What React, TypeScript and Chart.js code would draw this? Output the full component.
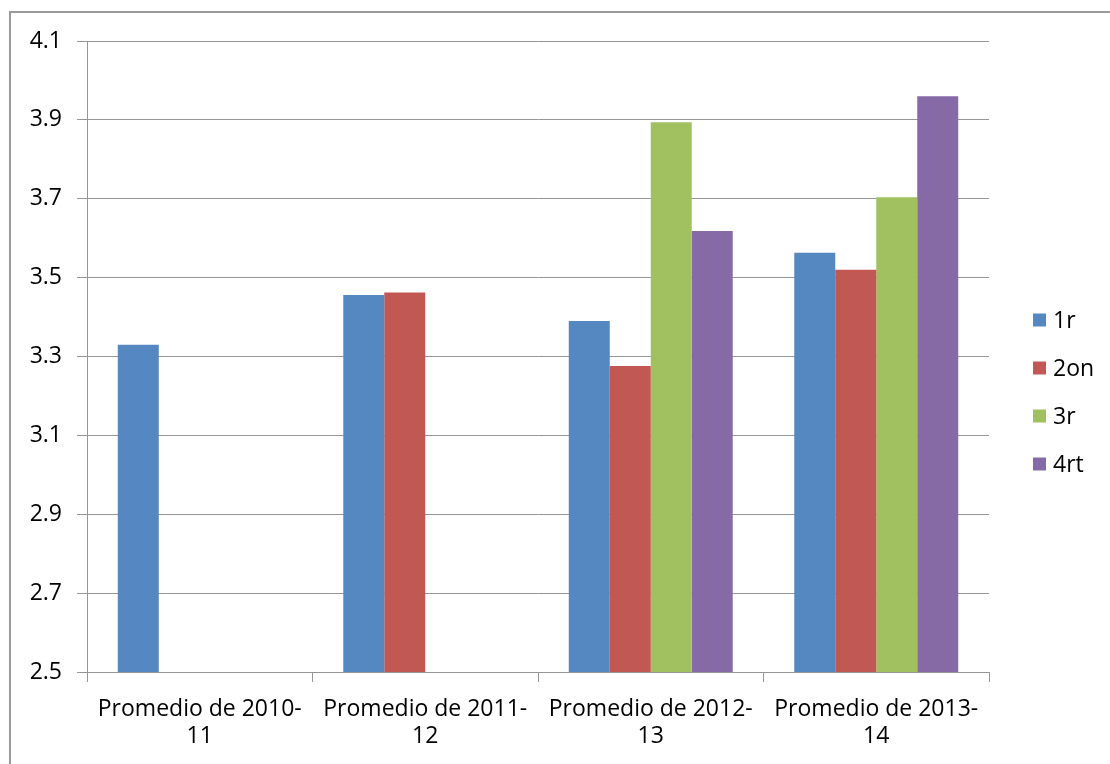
import React, { useEffect, useRef } from "react";
import { Chart, registerables } from "chart.js";

Chart.register(...registerables);

const categories: string[][] = [
  ["Promedio de 2010-", "11"],
  ["Promedio de 2011-", "12"],
  ["Promedio de 2012-", "13"],
  ["Promedio de 2013-", "14"],
];
const seriesNames = ["1r", "2on", "3r", "4rt"];
const s1r = [3.33, 3.456, 3.39, 3.563];
const s2on = [null, 3.462, 3.276, 3.52];
const s3r = [null, null, 3.894, 3.704];
const s4rt = [null, null, 3.618, 3.96];
const seriesColors = ["#5587C0", "#C25853", "#A1C060", "#866AA6"];
const yTicks = [2.5, 2.7, 2.9, 3.1, 3.3, 3.5, 3.7, 3.9, 4.1];

const FONT = "'Open Sans', sans-serif";
const GRID = "#969696";

const framePlugin = {
  id: "frame",
  beforeDraw(chart: any) {
    const ctx = chart.ctx;
    ctx.save();
    ctx.fillStyle = "#ffffff";
    ctx.fillRect(0, 0, chart.width, chart.height);
    ctx.strokeStyle = "#9a9a9a";
    ctx.lineWidth = 2;
    ctx.strokeRect(10, 12, chart.width + 20, chart.height + 20);
    ctx.restore();
  },
};

const legendPlugin = {
  id: "customLegend",
  afterDraw(chart: any) {
    const ctx = chart.ctx;
    ctx.save();
    ctx.font = `23px ${FONT}`;
    ctx.textBaseline = "middle";
    ctx.textAlign = "left";
    chart.data.datasets.forEach((ds: any, i: number) => {
      const cy = 320 + i * 48;
      ctx.fillStyle = ds.backgroundColor;
      ctx.fillRect(1033, cy - 6.5, 13, 13);
      ctx.fillStyle = "#000";
      ctx.fillText(ds.label, 1053, cy + 1);
    });
    ctx.restore();
  },
};

export default function App() {
  const ref = useRef<HTMLCanvasElement | null>(null);
  useEffect(() => {
    if (!ref.current) return;
    const data = [s1r, s2on, s3r, s4rt];
    const chart = new Chart(ref.current, {
      type: "bar",
      data: {
        labels: categories,
        datasets: seriesNames.map((n, i) => ({
          label: n,
          data: data[i],
          backgroundColor: seriesColors[i],
          borderWidth: 0,
          barPercentage: 1,
          categoryPercentage: 0.727,
        })),
      },
      options: {
        responsive: false,
        animation: false,
        layout: { padding: { left: 10, top: 41, right: 121, bottom: 0 } },
        plugins: {
          legend: { display: false },
          tooltip: { enabled: false },
        },
        scales: {
          x: {
            grid: {
              display: true,
              drawOnChartArea: false,
              drawTicks: true,
              tickLength: 10,
              color: GRID,
              offset: true,
            },
            border: { display: true, color: GRID },
            ticks: {
              color: "#000",
              font: { family: FONT, size: 23, lineHeight: 1.17 },
              padding: 14,
              maxRotation: 0,
              minRotation: 0,
              autoSkip: false,
            },
            afterFit(scale: any) {
              scale.height = 92;
            },
          },
          y: {
            min: 2.5,
            max: 4.1,
            afterBuildTicks(scale: any) {
              scale.ticks = yTicks.map((v) => ({ value: v }));
            },
            grid: { color: GRID, tickLength: 10 },
            border: { display: true, color: GRID },
            ticks: {
              color: "#000",
              font: { family: FONT, size: 23 },
              padding: 15,
              callback: (v: any) => Number(v).toFixed(1),
            },
            afterFit(scale: any) {
              scale.width = 77;
            },
          },
        },
      },
      plugins: [framePlugin, legendPlugin],
    });
    return () => chart.destroy();
  }, []);
  return (
    <div style={{ position: "absolute", left: 0, top: 0, width: 1110, height: 764 }}>
      <canvas ref={ref} width={1110} height={764} />
    </div>
  );
}
